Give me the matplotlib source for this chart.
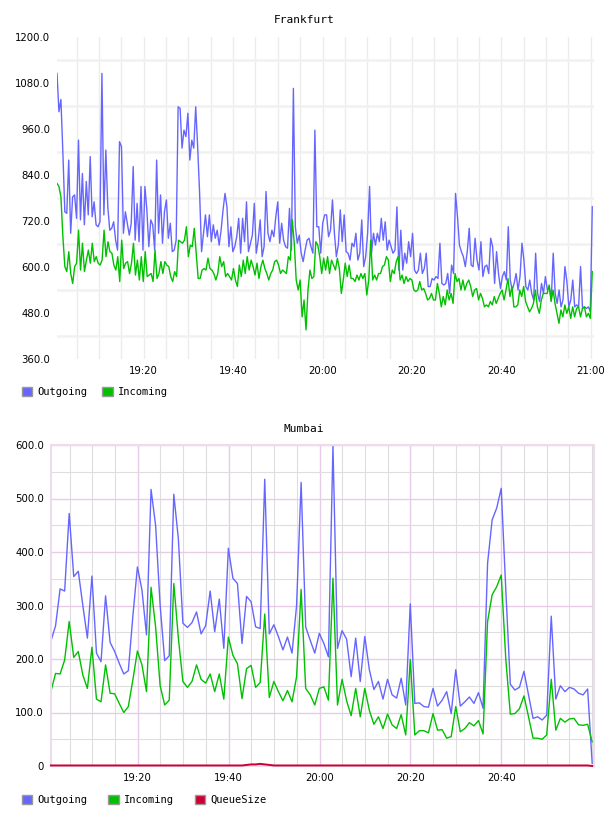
"""
plot.py - Frankfurt / Mumbai traffic charts.
Output: out.png
"""

import matplotlib
matplotlib.use("Agg")
import matplotlib.pyplot as plt
import matplotlib.dates as mdates
from matplotlib.patches import Patch
from matplotlib.ticker import MultipleLocator, FuncFormatter, FormatStrFormatter
import pandas as pd

DAY = "2024-01-01 "

# ---- Frankfurt (about one sample every 26 s) ----
fra_start = "19:00:36"
fra_end = "21:00:20"
fra_outgoing = [
    1105, 1005, 1037, 900, 744, 740, 879, 688, 783, 788,
    727, 931, 723, 844, 710, 823, 736, 888, 731, 770,
    710, 705, 718, 1105, 736, 905, 757, 696, 701, 718,
    670, 644, 927, 914, 688, 744, 714, 683, 714, 862,
    670, 766, 666, 810, 644, 810, 749, 653, 723, 710,
    644, 879, 688, 788, 662, 744, 775, 675, 714, 640,
    644, 670, 1018,
    1014, 910, 957, 940, 1001, 879, 931, 910, 1018, 914,
    792, 640, 688, 736, 679, 736, 666, 710, 675, 696,
    657, 696, 749, 792, 757, 653, 705, 640, 653, 679,
    727, 636, 727, 666, 770, 640, 662, 683, 766, 636,
    670, 723, 627, 653, 797, 688, 666, 696, 679, 731,
    770, 662, 714, 670, 653, 649, 753, 644, 1066, 705,
    662, 683, 636, 614, 644, 670, 675, 653, 636, 957,
    705, 705, 636, 714, 736, 736, 679, 696, 775,
    688, 627, 657, 749, 666, 736, 640, 636, 618, 662,
    653, 688, 618, 636, 723, 601, 627, 688, 810, 636,
    688, 657, 688, 666, 727, 670, 718, 644, 670, 653,
    636, 644, 757, 592, 696, 592, 636, 610, 666, 627,
    688, 592, 583, 592, 636, 583, 596, 636, 549, 549,
    570, 566, 575, 570, 662, 557, 553, 557, 583, 531,
    605, 583, 792,
    731, 657, 640, 627, 601, 640, 701, 605, 601,
    675, 618, 592, 666, 575, 601, 605, 583, 675, 653,
    557, 640, 583, 544, 575, 588, 566, 705, 566, 540,
    557, 583, 540, 575, 662, 618, 549, 540, 566, 531,
    514, 636, 531, 510, 557, 531, 575, 540, 549, 514,
    636, 531, 505, 540, 496, 514, 601, 562, 496, 514,
    566, 496, 501, 496, 601, 492, 496, 492, 496, 483,
    757,
]
fra_incoming = [
    818, 810, 783, 679, 601, 588, 640, 583, 557, 601,
    610, 696, 592, 662, 588, 618, 644, 610, 662, 614,
    627, 610, 605, 618, 696, 627, 666, 640, 636, 605,
    592, 627, 562, 670, 596, 610, 614, 583, 610, 662,
    579, 618, 566, 627, 562, 640, 575, 579, 583, 562,
    644, 570, 583, 614, 583, 614, 605, 601, 575, 562,
    588, 575, 670,
    666, 662, 670, 705, 627, 657, 653, 701, 636,
    570, 570, 592, 596, 592, 623, 596, 592, 583, 566,
    583, 627, 601, 614, 575, 583, 575, 566, 596, 566,
    549, 605, 575, 618, 583, 627, 592, 618, 601, 579,
    610, 570, 601, 618, 596, 583, 566, 583, 592, 614,
    618, 605, 583, 592, 588, 583, 627, 618, 723, 662,
    566, 540, 566, 470, 514, 436, 540, 592, 570, 575, 666,
    657, 627, 583, 623, 592, 627, 583, 618, 605,
    592, 623, 596, 531, 566, 610, 575, 605, 570, 570,
    562, 579, 566, 583, 570, 583, 527, 566, 670, 566,
    579, 566, 583, 583, 601, 605, 627, 618, 562, 592,
    583, 614, 627, 566, 579, 557, 575, 562, 570, 566,
    540, 536, 540, 562, 540, 544, 531, 514, 518, 531,
    514, 514, 557, 531, 496, 523, 501, 540, 514, 531,
    505, 583,
    562, 570, 540, 566, 540, 557, 566, 549, 523,
    540, 544, 514, 531, 518, 496, 501, 496, 510, 501,
    523, 505, 518, 531, 540, 514, 540, 570, 523, 549,
    496, 496, 501, 540, 523, 549, 510, 496, 483, 492,
    505, 540, 496, 479, 514, 531, 531, 531, 553, 510,
    540, 505, 479, 453, 488, 470, 501, 479, 496, 466,
    496, 470, 492, 496, 470, 492, 496, 470, 479, 466,
    588,
]

# ---- Mumbai (one sample per minute) ----
mum_start = "19:00:55"
mum_end = "21:00:00"
mum_outgoing = [
    234, 262, 331, 327, 472, 354, 364, 300, 239, 355,
    211, 195, 318, 231, 214, 192, 172, 178, 280, 372,
    329, 245, 517, 450, 300, 197, 206, 508, 425, 267,
    259, 268, 288, 247, 262, 327, 251, 312, 220, 407,
    351, 341, 229, 317, 307, 260, 257, 536, 247, 264,
    242, 217, 241, 211, 300, 530, 260, 235, 211, 248,
    229, 204, 598, 220, 253, 237, 167, 239, 158, 242,
    180, 143, 158, 125, 162, 133, 127, 164, 114, 303,
    117, 118, 111, 110, 145, 112, 123, 139, 98, 180,
    112, 120, 129, 117, 137, 108, 379, 460, 482, 519,
    330, 153, 142, 147, 177, 133, 89, 92, 86, 95,
    280, 125, 150, 139, 147, 144, 136, 133, 144, 5,
]
mum_incoming = [
    140, 173, 172, 198, 270, 203, 214, 170, 145, 222,
    125, 120, 189, 136, 135, 117, 100, 111, 161, 215,
    189, 139, 334, 260, 150, 114, 123, 341, 240, 158,
    147, 158, 189, 162, 155, 172, 139, 172, 125, 241,
    207, 191, 126, 182, 188, 147, 156, 284, 128, 158,
    139, 122, 141, 120, 167, 330, 145, 133, 114, 145,
    148, 123, 351, 114, 162, 122, 94, 145, 92, 145,
    104, 78, 92, 70, 97, 77, 70, 96, 58, 199,
    58, 66, 66, 62, 98, 67, 68, 52, 55, 111,
    64, 70, 81, 75, 85, 60, 270, 320, 335, 357,
    200, 97, 98, 107, 131, 92, 52, 52, 50, 58,
    162, 67, 89, 82, 88, 89, 77, 76, 78, 45,
]
mum_queue = [
    1, 1, 1, 1, 1, 1, 1, 1, 1, 1,
    1, 1, 1, 1, 1, 1, 1, 1, 1, 1,
    1, 1, 1, 1, 1, 1, 1, 1, 1, 1,
    1, 1, 1, 1, 1, 1, 1, 1, 1, 1,
    1, 1, 1, 2, 3, 3, 4, 3, 2, 1,
    1, 1, 1, 1, 1, 1, 1, 1, 1, 1,
    1, 1, 1, 1, 1, 1, 1, 1, 1, 1,
    1, 1, 1, 1, 1, 1, 1, 1, 1, 1,
    1, 1, 1, 1, 1, 1, 1, 1, 1, 1,
    1, 1, 1, 1, 1, 1, 1, 1, 1, 1,
    1, 1, 1, 1, 1, 1, 1, 1, 1, 1,
    1, 1, 1, 1, 1, 1, 1, 1, 1, 0,
]
mum_ticks = ["19:20", "19:40", "20:00", "20:20", "20:40"]

BLUE = "#6666ff"
GREEN = "#00c000"
RED = "#cc0033"
MONO = "DejaVu Sans Mono"


def times(start, end, n):
    return pd.date_range(DAY + start, DAY + end, periods=n).values


def ts(s):
    return pd.Timestamp(DAY + s)


fig = plt.figure(figsize=(6.08, 8.16), dpi=100)
W, H = 608.0, 816.0

# ---------------- Frankfurt ----------------
ax1 = fig.add_axes([57 / W, 1 - 359 / H, (594 - 57) / W, (359 - 37) / H])
ax1.plot(times(fra_start, fra_end, len(fra_outgoing)), fra_outgoing,
         color=BLUE, lw=1.0)
ax1.plot(times(fra_start, fra_end, len(fra_incoming)), fra_incoming,
         color=GREEN, lw=1.0)
ax1.set_xlim(ts("19:00:36"), ts("21:00:43"))
ax1.set_ylim(360, 1200)
for s in ax1.spines.values():
    s.set_visible(False)
ax1.yaxis.set_major_locator(MultipleLocator(120))
ax1.yaxis.set_minor_locator(MultipleLocator(120, offset=60))
ax1.yaxis.set_major_formatter(FormatStrFormatter("%.1f"))
ax1.xaxis.set_major_locator(mdates.MinuteLocator(byminute=[0, 20, 40]))
ax1.xaxis.set_minor_locator(mdates.MinuteLocator(byminute=range(0, 60, 5)))
ax1.xaxis.set_major_formatter(mdates.DateFormatter("%H:%M"))
ax1.grid(which="minor", axis="y", color="#f1f1f1", lw=1.8)
ax1.grid(which="both", axis="x", color="#ececec", lw=1.0)
ax1.set_axisbelow(True)
ax1.tick_params(which="both", length=0, labelsize=7.3, pad=5)
fig.text(0.5, 1 - 20 / H, "Frankfurt", ha="center", va="center",
         family=MONO, fontsize=8)
fig.legend([Patch(facecolor=BLUE, edgecolor="#999999", lw=1),
            Patch(facecolor=GREEN, edgecolor="#999999", lw=1)],
           ["Outgoing", "Incoming"], loc="center left",
           bbox_to_anchor=(22 / W, 1 - 392 / H), ncol=2, frameon=False,
           prop={"family": MONO, "size": 7.5}, handlelength=1.0,
           handleheight=1.0, handletextpad=0.5, columnspacing=1.4,
           borderpad=0, borderaxespad=0)

# ---------------- Mumbai ----------------
ax2 = fig.add_axes([51 / W, 1 - 766 / H, (594 - 51) / W, (766 - 445) / H])
ax2.plot(times(mum_start, mum_end, len(mum_outgoing)), mum_outgoing,
         color=BLUE, lw=1.0)
ax2.plot(times(mum_start, mum_end, len(mum_incoming)), mum_incoming,
         color=GREEN, lw=1.0)
ax2.plot(times(mum_start, mum_end, len(mum_queue)), mum_queue,
         color=RED, lw=1.4, clip_on=False, zorder=5)
ax2.set_xlim(ts("19:00:55"), ts("21:00:24"))
ax2.set_ylim(0, 600)
for s in ax2.spines.values():
    s.set_color("#ecdcec")
    s.set_linewidth(1.5)
ax2.yaxis.set_major_locator(MultipleLocator(100))
ax2.yaxis.set_minor_locator(MultipleLocator(50))
ax2.yaxis.set_major_formatter(
    FuncFormatter(lambda v, p: "0" if v == 0 else "%.1f" % v))
ax2.set_xticks([mdates.date2num(ts(t)) for t in mum_ticks])
ax2.set_xticklabels(mum_ticks)
ax2.xaxis.set_minor_locator(mdates.MinuteLocator(byminute=range(0, 60, 5)))
ax2.grid(which="major", color="#e6cce6", lw=1.0)
ax2.grid(which="minor", color="#dedede", lw=0.8)
ax2.set_axisbelow(True)
ax2.tick_params(which="both", length=0, labelsize=7.3, pad=5)
fig.text(0.5, 1 - 429 / H, "Mumbai", ha="center", va="center",
         family=MONO, fontsize=8)
fig.legend([Patch(facecolor=BLUE, edgecolor="#999999", lw=1),
            Patch(facecolor=GREEN, edgecolor="#999999", lw=1),
            Patch(facecolor=RED, edgecolor="#999999", lw=1)],
           ["Outgoing", "Incoming", "QueueSize"], loc="center left",
           bbox_to_anchor=(22 / W, 1 - 800 / H), ncol=3, frameon=False,
           prop={"family": MONO, "size": 7.5}, handlelength=1.0,
           handleheight=1.0, handletextpad=0.5, columnspacing=2.0,
           borderpad=0, borderaxespad=0)

fig.savefig("out.png", dpi=100)
